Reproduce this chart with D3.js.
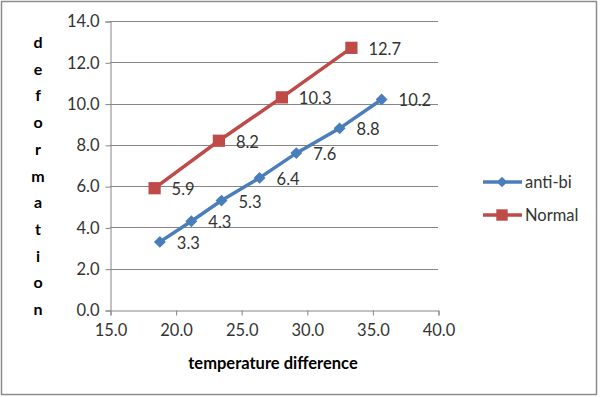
<!DOCTYPE html>
<html>
<head>
<meta charset="utf-8">
<script src="https://cdn.jsdelivr.net/npm/d3@7"></script>
<style>
  body { margin: 0; background: #fff; }
  text { font-family: Lato, "Open Sans", sans-serif; }
</style>
</head>
<body>
<div id="chart"></div>
<script>
// data
var antiX = [18.8, 21.2, 23.5, 26.4, 29.2, 32.5, 35.7];
var antiY = [3.3, 4.3, 5.3, 6.4, 7.6, 8.8, 10.2];
var normalX = [18.4, 23.3, 28.1, 33.4];
var normalY = [5.9, 8.2, 10.3, 12.7];
var xTicks = [15, 20, 25, 30, 35, 40];
var yTicks = [0, 2, 4, 6, 8, 10, 12, 14];
var seriesNames = ['anti-bi', 'Normal'];

var w = 600, h = 397;
var mLeft = 110, mRight = 438, mTop = 21, mBottom = 310;

var svg = d3.select('#chart').append('svg')
  .attr('width', w)
  .attr('height', h);

// outer border
svg.append('rect')
  .attr('x', 1.5).attr('y', 1.5)
  .attr('width', 595).attr('height', 393)
  .attr('fill', '#fff')
  .attr('stroke', '#8c8c8c')
  .attr('stroke-width', 1.5);

var x = d3.scaleLinear().domain([15, 40]).range([mLeft, mRight]);
var y = d3.scaleLinear().domain([0, 14]).range([mBottom, mTop]);

// gridlines
svg.append('g').selectAll('line')
  .data(yTicks.slice(1))
  .enter().append('line')
  .attr('x1', mLeft).attr('x2', mRight)
  .attr('y1', function(d) { return Math.round(y(d)) + 0.5; })
  .attr('y2', function(d) { return Math.round(y(d)) + 0.5; })
  .attr('stroke', '#868686')
  .attr('stroke-width', 1);

// y axis
var yAxis = svg.append('g')
  .attr('transform', 'translate(' + (mLeft + 0.5) + ',0.5)')
  .call(d3.axisLeft(y).tickValues(yTicks).tickFormat(d3.format('.1f')).tickSize(5).tickPadding(6));

// x axis
var xAxis = svg.append('g')
  .attr('transform', 'translate(0.5,' + (mBottom + 0.5) + ')')
  .call(d3.axisBottom(x).tickValues(xTicks).tickFormat(d3.format('.1f')).tickSize(5).tickPadding(9));

[yAxis, xAxis].forEach(function(a) {
  a.selectAll('path').attr('stroke', '#868686');
  a.selectAll('line').attr('stroke', '#868686');
  a.selectAll('text')
    .attr('fill', '#333')
    .style('font-size', '16.5px')
    .style('font-family', 'Lato, "Open Sans", sans-serif');
});

// y title, stacked letters
var ytitle = 'deformation'.split('');
svg.append('g').selectAll('text')
  .data(ytitle)
  .enter().append('text')
  .attr('x', 38)
  .attr('y', function(d, i) { return 48 + i * 26.7; })
  .attr('text-anchor', 'middle')
  .style('font-size', '16px')
  .style('font-weight', 'bold')
  .text(function(d) { return d; });

svg.append('text')
  .attr('x', 273)
  .attr('y', 369)
  .attr('text-anchor', 'middle')
  .style('font-size', '16.5px')
  .style('font-weight', 'bold')
  .text('temperature difference');

var blue = '#4a7ebb', red = '#be4b48';

var line = d3.line()
  .x(function(d) { return x(d[0]); })
  .y(function(d) { return y(d[1]); });

var antiPts = d3.zip(antiX, antiY);
var normalPts = d3.zip(normalX, normalY);

svg.append('path')
  .datum(antiPts)
  .attr('d', line)
  .attr('fill', 'none')
  .attr('stroke', blue)
  .attr('stroke-width', 3.5);

svg.append('path')
  .datum(normalPts)
  .attr('d', line)
  .attr('fill', 'none')
  .attr('stroke', red)
  .attr('stroke-width', 3.5);

var diamond = d3.symbol().type(d3.symbolDiamond2).size(90);
var square = d3.symbol().type(d3.symbolSquare).size(150);

svg.append('g').selectAll('path')
  .data(antiPts)
  .enter().append('path')
  .attr('d', diamond)
  .attr('transform', function(d) { return 'translate(' + x(d[0]) + ',' + y(d[1]) + ')'; })
  .attr('fill', blue);

svg.append('g').selectAll('path')
  .data(normalPts)
  .enter().append('path')
  .attr('d', square)
  .attr('transform', function(d) { return 'translate(' + x(d[0]) + ',' + y(d[1]) + ')'; })
  .attr('fill', red);

// value labels
function labels(pts) {
  svg.append('g').selectAll('text')
    .data(pts)
    .enter().append('text')
    .attr('x', function(d) { return x(d[0]) + 17; })
    .attr('y', function(d) { return y(d[1]) + 7; })
    .attr('fill', '#333')
    .style('font-size', '16.5px')
    .text(function(d) { return d3.format('.1f')(d[1]); });
}
labels(antiPts);
labels(normalPts);

// legend
var legend = svg.append('g');
var legendY = [182, 215];
var colors = [blue, red];
var shapes = [d3.symbol().type(d3.symbolDiamond2).size(70), d3.symbol().type(d3.symbolSquare).size(130)];
seriesNames.forEach(function(name, i) {
  legend.append('line')
    .attr('x1', 483).attr('x2', 522)
    .attr('y1', legendY[i]).attr('y2', legendY[i])
    .attr('stroke', colors[i])
    .attr('stroke-width', 3.5);
  legend.append('path')
    .attr('d', shapes[i])
    .attr('transform', 'translate(502,' + legendY[i] + ')')
    .attr('fill', colors[i]);
  legend.append('text')
    .attr('x', 525)
    .attr('y', legendY[i] + 6)
    .attr('fill', '#333')
    .style('font-size', '16.5px')
    .text(name);
});
</script>
</body>
</html>
